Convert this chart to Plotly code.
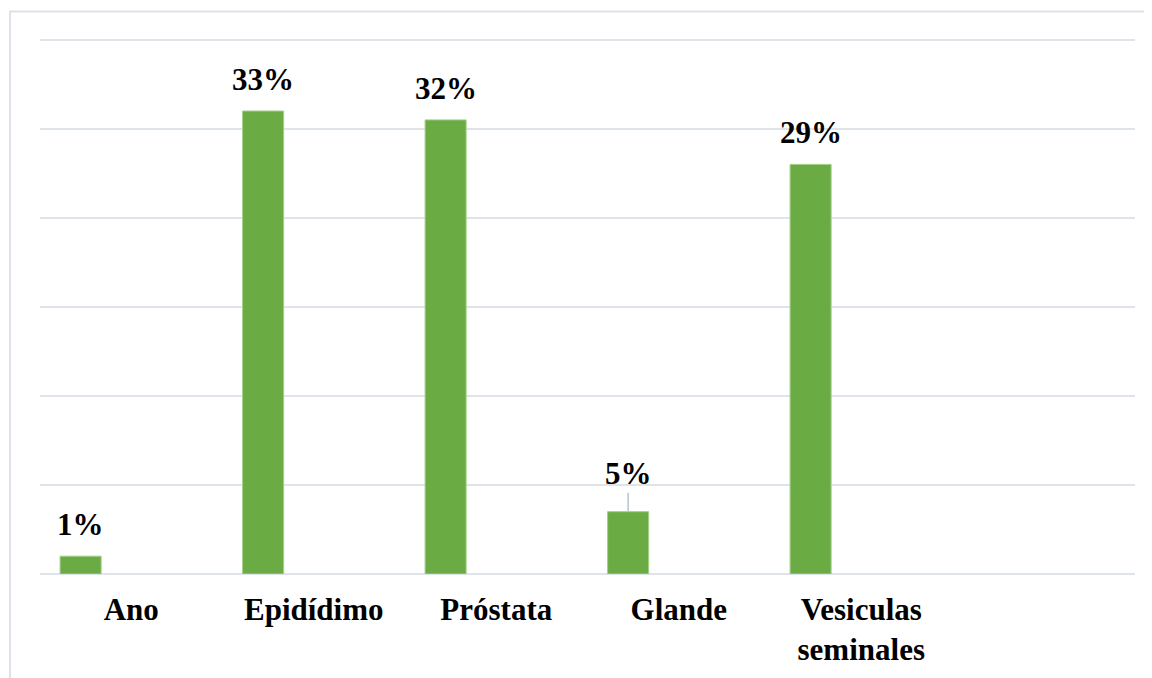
import plotly.graph_objects as go

# Categories (last slot is empty in the original chart)
categories = ["Ano", "Epidídimo", "Próstata", "Glande", "Vesiculas<br>seminales", ""]
counts = [4, 104, 102, 14, 92]
labels = ["1%", "33%", "32%", "5%", "29%"]

bar_offset = -0.39
bar_width = 0.225
font = "Liberation Serif, Times New Roman, serif"

xs = list(range(len(counts)))

fig = go.Figure()
fig.add_trace(go.Bar(
    x=xs, y=counts,
    offset=bar_offset, width=bar_width,
    marker=dict(color="#6aab43", line=dict(color="#a3cf88", width=1)),
    hoverinfo="skip",
))

# data labels
centers = [x + bar_offset + bar_width / 2 for x in xs]
for cx, v, lab in zip(centers, counts, labels):
    if lab == "5%":
        # label lifted with a leader line, like the original
        fig.add_annotation(x=cx, y=v, text="<b>%s</b>" % lab, showarrow=True,
                           ax=0, ay=-38, arrowhead=0, arrowwidth=1.5,
                           arrowcolor="#b9c3cd", standoff=0,
                           font=dict(family=font, size=31, color="#000"))
    else:
        fig.add_annotation(x=cx, y=v, text="<b>%s</b>" % lab, showarrow=False,
                           yanchor="bottom", yshift=12,
                           font=dict(family=font, size=31, color="#000"))

# outer chart frame
fig.add_shape(type="rect", xref="paper", yref="paper",
              x0=-0.0274, x1=1.03, y0=-0.25, y1=1.0495,
              line=dict(color="#dde2ea", width=2), layer="below")

# page body has an 8px margin, so the figure is a bit smaller and shifted
fig.update_layout(
    width=1144, height=670,
    margin=dict(l=32, r=17, t=30, b=104),
    plot_bgcolor="white", paper_bgcolor="white",
    showlegend=False,
    xaxis=dict(range=[-0.5, 5.5], tickvals=list(range(len(categories))),
               ticktext=["<b>%s</b>" % c if c else "" for c in categories],
               showgrid=False, zeroline=False, showline=False,
               ticks="", ticklabelstandoff=14,
               tickfont=dict(family=font, size=31, color="#000")),
    yaxis=dict(range=[0, 120.4], tickvals=[0, 20, 40, 60, 80, 100, 120],
               showticklabels=False,
               showgrid=True, gridcolor="#dfe3ea", gridwidth=2,
               zeroline=True, zerolinecolor="#dfe3ea", zerolinewidth=2,
               showline=False),
)

fig.write_html("out.html")
